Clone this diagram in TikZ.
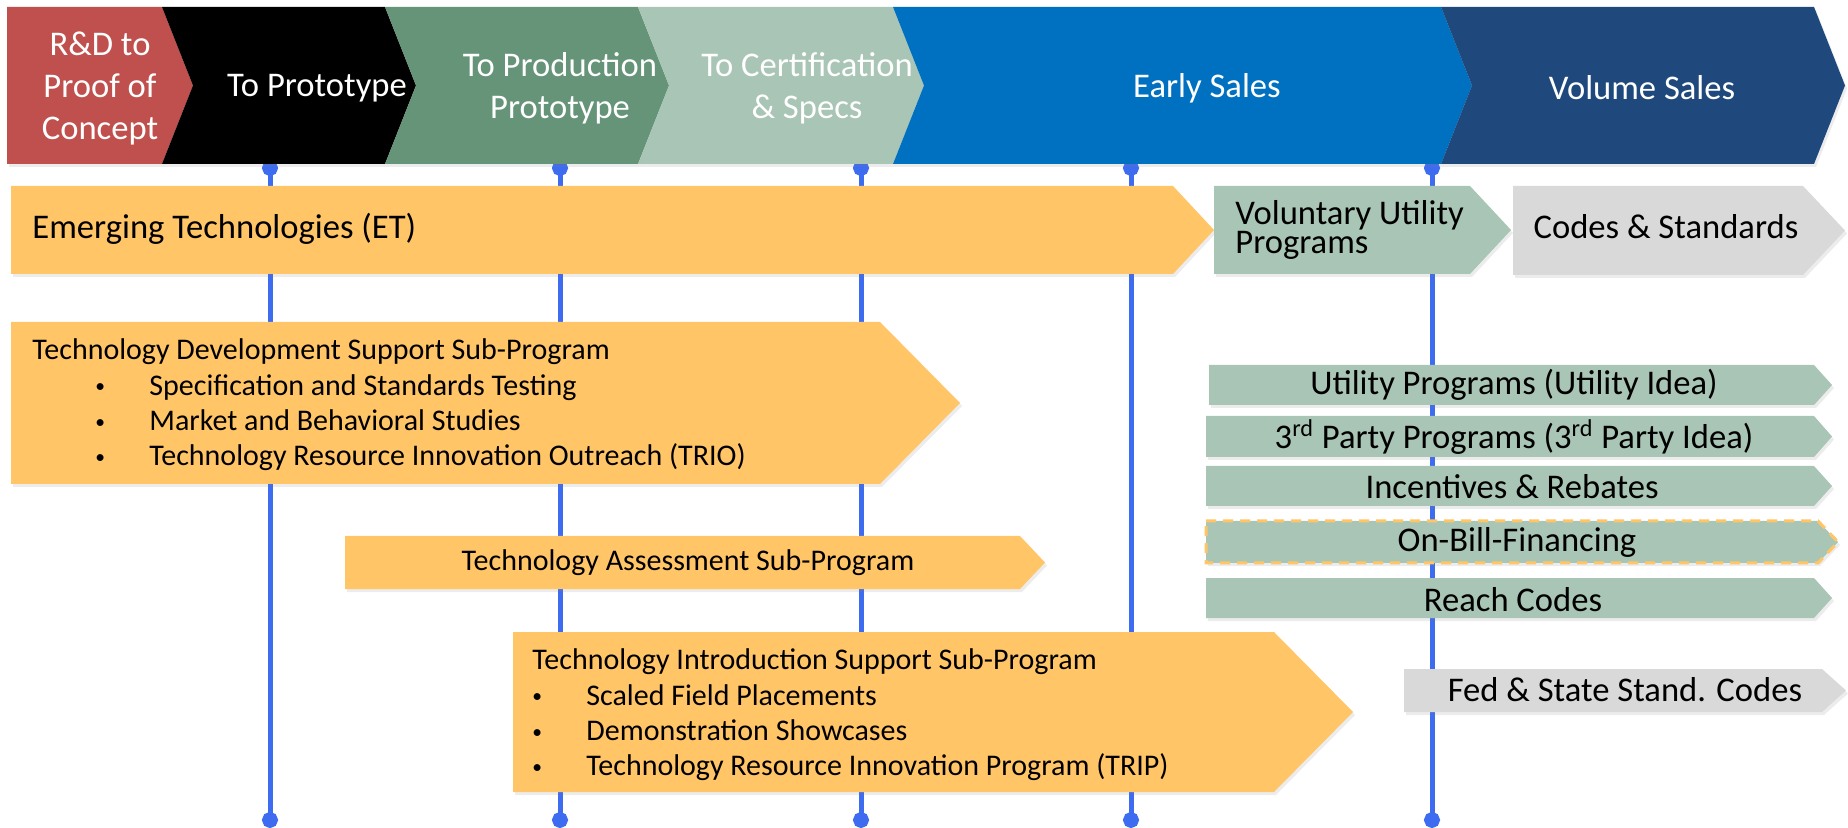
\documentclass[tikz,border=0pt]{standalone}
\usepackage{fontspec}
\setmainfont{Carlito}
\usetikzlibrary{shadows,arrows.meta}

\definecolor{rdred}{RGB}{192,80,77}
\definecolor{protogreen}{RGB}{101,148,121}
\definecolor{specgreen}{RGB}{169,197,181}
\definecolor{salesblue}{RGB}{0,112,192}
\definecolor{volnavy}{RGB}{31,73,125}
\definecolor{etorange}{RGB}{255,197,102}
\definecolor{codegray}{RGB}{217,217,217}
\definecolor{lineblue}{RGB}{61,108,241}

% left, top, right, bottom, depth of the point
\newcommand{\stagechev}[6]{%
  \fill[#1] (#2,#3) -- (#4,#3) -- ({#4+#6},{(#3+#5)/2}) -- (#4,#5) -- (#2,#5)
    -- ({#2+#6},{(#3+#5)/2}) -- cycle;}
\newcommand{\progbox}[6]{%
  \fill[#1] (#2,#3) -- (#4,#3) -- ({#4+#6},{(#3+#5)/2}) -- (#4,#5) -- (#2,#5) -- cycle;}
% bullet line: indent, text
\newcommand{\bitem}[2]{\\\hspace*{#1}\makebox[27pt][l]{\raisebox{.15ex}{\scalebox{.65}{\textbullet}}}#2}

\begin{document}
\begin{tikzpicture}[x=0.5pt,y=-0.5pt,
    boxshadow/.style={drop shadow={shadow xshift=1pt,shadow yshift=-1.5pt,opacity=.15}},
    stage/.style={text=white,align=center,font=\fontsize{17.3}{21}\selectfont},
    big/.style={font=\fontsize{17.3}{14.8}\selectfont,align=left,inner sep=0pt},
    small/.style={font=\fontsize{15}{17.7}\selectfont,align=left,inner sep=0pt},
    etarrow/.style={fill=etorange,boxshadow},
    greenarrow/.style={fill=specgreen,boxshadow},
    grayarrow/.style={fill=codegray,boxshadow},
    billarrow/.style={fill=specgreen,draw=etorange,line width=1.5pt,dash pattern=on 5pt off 3.5pt,boxshadow},
    milestone/.style={draw=lineblue,line width=2.5pt,{Circle[length=8pt]}-{Circle[length=8pt]}}]
\useasboundingbox (0,0) rectangle (1848,828);

% milestone lines
\coordinate (top1) at (270,160);  \coordinate (bot1) at (270,828);
\coordinate (top2) at (560,160);  \coordinate (bot2) at (560,828);
\coordinate (top3) at (861,160);  \coordinate (bot3) at (861,828);
\coordinate (top4) at (1131,160); \coordinate (bot4) at (1131,828);
\coordinate (top5) at (1432,160); \coordinate (bot5) at (1432,828);
\draw[milestone] (top1) -- (bot1);
\draw[milestone] (top2) -- (bot2);
\draw[milestone] (top3) -- (bot3);
\draw[milestone] (top4) -- (bot4);
\draw[milestone] (top5) -- (bot5);

% stages
\progbox{fill=rdred,boxshadow}{7}{7}{162}{164}{31}
\stagechev{fill=black,boxshadow}{162}{7}{385}{164}{31}
\stagechev{fill=protogreen,boxshadow}{385}{7}{638}{164}{31}
\stagechev{fill=specgreen,boxshadow}{638}{7}{893}{164}{31}
\stagechev{fill=salesblue,boxshadow}{893}{7}{1441}{164}{31}
\stagechev{fill=volnavy,boxshadow}{1441}{7}{1814}{164}{31}
\node[stage] (rd) at (100,88) {R\&D to\\Proof of\\Concept};
\node[stage] (proto) at (317,88) {To Prototype};
\node[stage] (prodproto) at (560,88) {To Production\\Prototype};
\node[stage] (cert) at (807,88) {To Certification\\\& Specs};
\node[stage] (early) at (1207,88) {Early Sales};
\node[stage] (volume) at (1642,88) {Volume Sales};

% programs
\progbox{etarrow}{11}{186}{1173}{274}{41}
\node[big,anchor=west] (et) at (32,229) {Emerging Technologies (ET)};
\progbox{greenarrow}{1214}{186}{1470}{274}{41}
\node[big,anchor=west] (vup) at (1235,230) {Voluntary Utility\\Programs};
\progbox{grayarrow}{1513}{186}{1803}{275}{42}
\node[big] (cs) at (1666,227) {Codes \& Standards};

\progbox{etarrow}{11}{322}{880}{484}{80}
\node[small,anchor=west] (tds) at (32,405) {Technology Development Support Sub-Program
  \bitem{31.5pt}{Specification and Standards Testing}
  \bitem{31.5pt}{Market and Behavioral Studies}
  \bitem{31.5pt}{Technology Resource Innovation Outreach (TRIO)}};

\progbox{etarrow}{345}{536}{1020}{589}{25}
\node[small] (tas) at (688,563) {Technology Assessment Sub-Program};

\progbox{etarrow}{513}{632}{1274}{792}{79}
\node[small,anchor=west] (tis) at (532,715) {Technology Introduction Support Sub-Program
  \bitem{0pt}{Scaled Field Placements}
  \bitem{0pt}{Demonstration Showcases}
  \bitem{0pt}{Technology Resource Innovation Program (TRIP)}};

% utility side
\progbox{greenarrow}{1209}{365}{1814}{405}{18}
\node[big] (uprog) at (1514,385) {Utility Programs (Utility Idea)};
\progbox{greenarrow}{1206}{416}{1814}{457}{18}
\node[big] (tprog) at (1514,437) {3\textsuperscript{rd} Party Programs (3\textsuperscript{rd} Party Idea)};
\progbox{greenarrow}{1206}{466}{1814}{506}{18}
\node[big] (incent) at (1512,487) {Incentives \& Rebates};
\progbox{billarrow}{1206}{521}{1818}{563}{20}
\node[big] (obf) at (1517,542) {On-Bill-Financing};
\progbox{greenarrow}{1206}{578}{1814}{618}{18}
\node[big] (reach) at (1513,600) {Reach Codes};
\progbox{grayarrow}{1404}{669}{1822}{712}{24}
\node[big] (fed) at (1625,690) {Fed \& State Stand. Codes};
\end{tikzpicture}
\end{document}
